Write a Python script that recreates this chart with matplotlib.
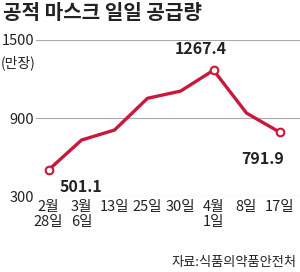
import matplotlib.pyplot as plt

plt.rcParams['font.family'] = ['Noto Sans CJK KR', 'DejaVu Sans']

dates = ["2월\n28일", "3월\n6일", "13일", "25일", "30일", "4월\n1일", "8일", "17일"]
supply = [501.1, 731, 808, 1052, 1107, 1267.4, 938, 791.9]
yticks = [300, 900, 1500]
labelled = [0, 5, 7]

red = "#c8193c"
txt = "#222222"

fig = plt.figure(figsize=(3, 2.72), dpi=100)
ax = fig.add_axes([0.12, 0.279, 0.88, 0.574])

x = list(range(len(supply)))
ax.plot(x, supply, color=red, lw=2.4, zorder=3, solid_joinstyle="round")
ax.plot([x[i] for i in labelled], [supply[i] for i in labelled], "o",
        ms=5.5, mfc="white", mec=red, mew=1.5, zorder=4)

ax.set_ylim(300, 1500)
ax.set_xlim(-0.38, 7.62)
ax.set_yticks(yticks)
ax.set_yticklabels([str(v) for v in yticks], fontsize=10.5, color=txt)
ax.yaxis.grid(True, color="#aaaaaa", lw=0.8)
ax.set_axisbelow(True)
ax.tick_params(axis="y", length=0, pad=1.5)
ax.set_xticks(x)
ax.set_xticklabels(dates, fontsize=10.5, color=txt, linespacing=1.05)
ax.tick_params(axis="x", length=0, pad=3)
for s in ax.spines.values():
    s.set_visible(False)

# value labels
ax.annotate("501.1", (x[0], supply[0]), xytext=(8, -12), textcoords="offset points",
            fontsize=11.5, fontweight="bold", color=txt, ha="left", va="center")
ax.annotate("1267.4", (x[5], supply[5]), xytext=(-9, 15), textcoords="offset points",
            fontsize=11.5, fontweight="bold", color=txt, ha="center", va="center")
ax.annotate("791.9", (x[7], supply[7]), xytext=(-12, -19), textcoords="offset points",
            fontsize=11.5, fontweight="bold", color=txt, ha="center", va="center")

fig.text(0.003, 0.77, "(만장)", fontsize=10, color=txt, ha="left", va="center")
fig.text(0.01, 0.955, "공적 마스크 일일 공급량", fontsize=14.5, fontweight="bold",
         color=txt, ha="left", va="center")
fig.text(0.99, 0.035, "자료:식품의약품안전처", fontsize=9.5, color=txt,
         ha="right", va="center")

fig.savefig("out.png", dpi=100)
